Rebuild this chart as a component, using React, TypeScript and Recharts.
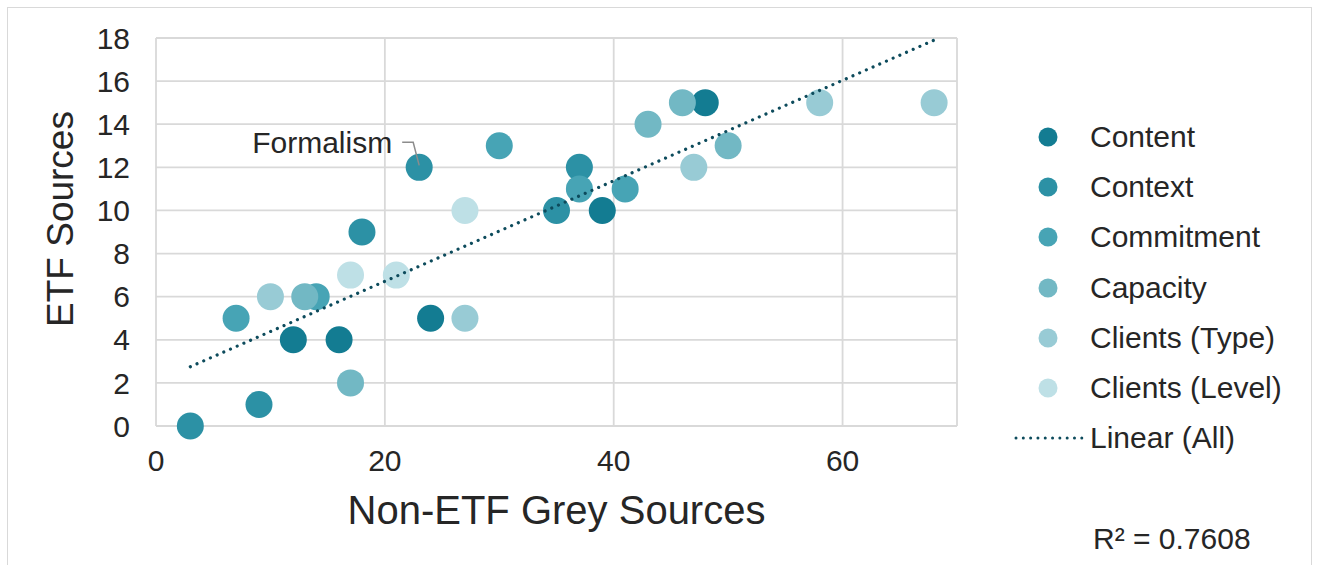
import React from 'react';
import {
  ScatterChart,
  Scatter,
  XAxis,
  YAxis,
  CartesianGrid,
  Label,
} from 'recharts';

// points: x = non-ETF grey sources, y = ETF sources
const content = [
  { x: 12, y: 4 },
  { x: 16, y: 4 },
  { x: 24, y: 5 },
  { x: 39, y: 10 },
  { x: 48, y: 15 },
];
const context = [
  { x: 3, y: 0 },
  { x: 9, y: 1 },
  { x: 18, y: 9 },
  { x: 23, y: 12, label: 'Formalism' },
  { x: 35, y: 10 },
  { x: 37, y: 12 },
];
const commitment = [
  { x: 7, y: 5 },
  { x: 14, y: 6 },
  { x: 30, y: 13 },
  { x: 37, y: 11 },
  { x: 41, y: 11 },
];
const capacity = [
  { x: 13, y: 6 },
  { x: 17, y: 2 },
  { x: 43, y: 14 },
  { x: 46, y: 15 },
  { x: 50, y: 13 },
];
const clientsType = [
  { x: 10, y: 6 },
  { x: 27, y: 5 },
  { x: 47, y: 12 },
  { x: 58, y: 15 },
  { x: 68, y: 15 },
];
const clientsLevel = [
  { x: 17, y: 7 },
  { x: 21, y: 7 },
  { x: 27, y: 10 },
];
// ends of the fitted line as drawn in the reference
const trendLine = [
  { x: 3, y: 2.75 },
  { x: 68, y: 17.9 },
];

const xTicks = [0, 20, 40, 60];
const yTicks = [0, 2, 4, 6, 8, 10, 12, 14, 16, 18];
const rSquared = 'R² = 0.7608';

const series = [
  { name: 'Content', data: content, color: '#137C92' },
  { name: 'Context', data: context, color: '#2C91A5' },
  { name: 'Commitment', data: commitment, color: '#47A4B5' },
  { name: 'Capacity', data: capacity, color: '#72B8C4' },
  { name: 'Clients (Type)', data: clientsType, color: '#98CBD5' },
  { name: 'Clients (Level)', data: clientsLevel, color: '#BEE0E6' },
];

const FONT = '"Liberation Sans", Arial, sans-serif';
const TEXT = '#262626';
const GRID = '#D9D9D9';
const TREND = '#0D4B5C';

const makeDot = (color: string) => (props: any) => {
  const { cx, cy, payload } = props;
  return (
    <g>
      <circle cx={cx} cy={cy} r={13.5} fill={color} />
      {payload && payload.label ? (
        <g>
          <polyline
            points={`${cx - 17},${cy - 25} ${cx - 6},${cy - 25} ${cx},${cy - 2}`}
            fill="none"
            stroke="#8C8C8C"
            strokeWidth={1.5}
          />
          <text
            x={cx - 27}
            y={cy - 14}
            textAnchor="end"
            fontSize={30}
            fontFamily={FONT}
            fill={TEXT}
          >
            {payload.label}
          </text>
        </g>
      ) : null}
    </g>
  );
};

function LegendBox() {
  return (
    <div
      style={{
        position: 'absolute',
        left: 1010,
        top: 112,
        fontFamily: FONT,
        fontSize: 30,
        color: TEXT,
      }}
    >
      {series.map((s) => (
        <div key={s.name} style={{ height: 50.2, display: 'flex', alignItems: 'center' }}>
          <svg width={80} height={30}>
            <circle cx={38} cy={15} r={9.5} fill={s.color} />
          </svg>
          <span>{s.name}</span>
        </div>
      ))}
      <div style={{ height: 50.2, display: 'flex', alignItems: 'center' }}>
        <svg width={80} height={30}>
          <line
            x1={6}
            y1={15}
            x2={74}
            y2={15}
            stroke={TREND}
            strokeWidth={3}
            strokeDasharray="0.01 7.3"
            strokeLinecap="round"
          />
        </svg>
        <span>Linear (All)</span>
      </div>
    </div>
  );
}

export default function App() {
  return (
    <div
      style={{
        position: 'fixed',
        left: 0,
        top: 0,
        width: 1317,
        height: 565,
        background: '#fff',
        overflow: 'hidden',
      }}
    >
      <div
        style={{
          position: 'absolute',
          left: 7,
          top: 7,
          width: 1303,
          height: 600,
          border: `1px solid ${GRID}`,
        }}
      />
      <div style={{ position: 'absolute', left: 0, top: 0 }}>
        <ScatterChart
          width={1317}
          height={565}
          margin={{ top: 38, right: 360, left: 0, bottom: 39 }}
        >
          <CartesianGrid stroke={GRID} strokeWidth={1.8} />
          <XAxis
            type="number"
            dataKey="x"
            domain={[0, 70]}
            ticks={xTicks}
            height={100}
            axisLine={false}
            tickLine={false}
            tickSize={0}
            tickMargin={24}
            tick={{ fill: TEXT, fontSize: 30, fontFamily: FONT }}
          >
            <Label
              value="Non-ETF Grey Sources"
              position="insideBottom"
              offset={2}
              style={{ fill: TEXT, fontSize: 40, fontFamily: FONT }}
            />
          </XAxis>
          <YAxis
            type="number"
            dataKey="y"
            domain={[0, 18]}
            ticks={yTicks}
            width={156}
            axisLine={false}
            tickLine={false}
            tickSize={0}
            tickMargin={26}
            tick={{ fill: TEXT, fontSize: 30, fontFamily: FONT }}
          >
            <Label
              content={() => (
                <text
                  transform="translate(73, 219) rotate(-90)"
                  textAnchor="middle"
                  fontSize={37}
                  fontFamily={FONT}
                  fill={TEXT}
                >
                  ETF Sources
                </text>
              )}
            />
          </YAxis>
          {series.map((s) => (
            <Scatter
              key={s.name}
              name={s.name}
              data={s.data}
              fill={s.color}
              shape={makeDot(s.color)}
              isAnimationActive={false}
            />
          ))}
          <Scatter
            name="Linear (All)"
            data={trendLine}
            fill={TREND}
            line={{
              stroke: TREND,
              strokeWidth: 3.2,
              strokeDasharray: '0.01 7.3',
              strokeLinecap: 'round',
            }}
            shape={() => <g />}
            isAnimationActive={false}
          />
        </ScatterChart>
      </div>
      <LegendBox />
      <div
        style={{
          position: 'absolute',
          left: 1093,
          top: 521,
          fontFamily: FONT,
          fontSize: 30,
          color: TEXT,
          lineHeight: '36px',
        }}
      >
        {rSquared}
      </div>
    </div>
  );
}
